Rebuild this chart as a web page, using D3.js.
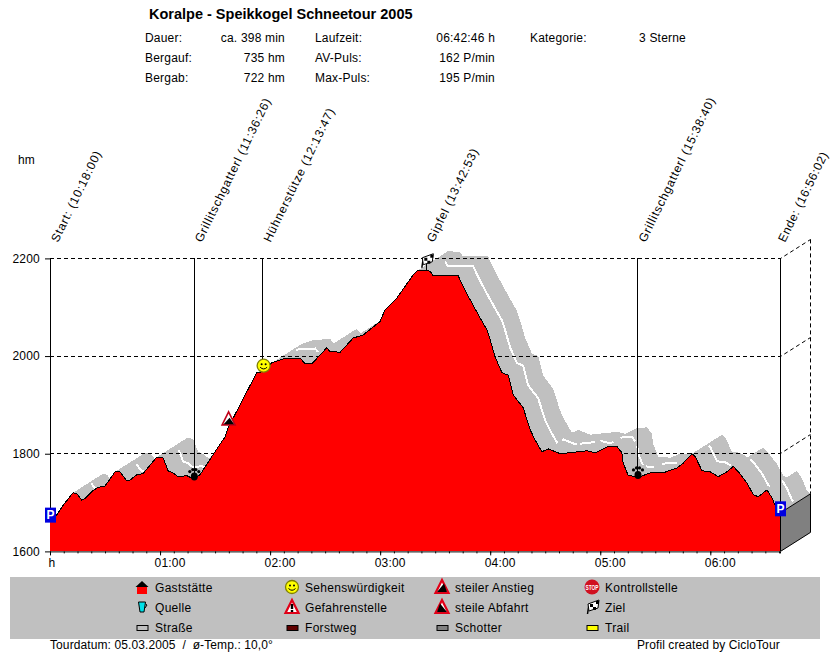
<!DOCTYPE html>
<html>
<head>
<meta charset="utf-8">
<script src="https://cdnjs.cloudflare.com/ajax/libs/d3/7.8.5/d3.min.js"></script>
<style>
  html, body { margin: 0; padding: 0; background: #fff; }
  svg { display: block; }
  text { font-family: "Liberation Sans", Arial, sans-serif; font-size: 12px; fill: #000; letter-spacing: .2px; white-space: pre; }
</style>
</head>
<body>
<div id="chart"></div>
<script>
// profile, minutes since start / height in hm
var profileMin = [0,3.7,7.1,12.5,14.7,17.3,19.1,23.5,26.2,30,35.5,38.2,41.8,43.6,47.3,50.7,58.2,61.6,64.4,67,69.8,74.6,78.5,81.8,88.9,95.5,97.1,112.7,116.2,120.9,127.1,136.4,139.1,142.7,148.2,150.9,152.7,158.2,165.3,170.7,180,182.7,189.1,198,200.7,207.3,208.7,222.5,225.3,229.1,234.5,238.2,240,242.7,246.4,249.8,252.5,258,261.8,264.5,268.2,271.6,278.2,292.8,297.3,303.7,309.1,311.8,312.5,315.3,321.8,327.3,334.4,341.8,345.3,350,351.8,355.5,360,364.4,369.1,372.5,375.3,380,383.5,386.2,390.9,393.6,396.4,398];
var profileHm = [1662,1675,1694,1720,1718,1705,1708,1725,1731,1734,1763,1763,1745,1746,1757,1759,1793,1792,1765,1761,1753,1755,1748,1757,1798,1835,1853,1966,1968,1986,1994,1996,1984,1984,2006,2017,2009,2008,2037,2043,2071,2095,2119,2166,2176,2174,2165,2165,2142,2115,2078,2054,2033,1998,1966,1961,1921,1894,1849,1828,1804,1810,1800,1806,1802,1814,1815,1802,1781,1755,1753,1761,1761,1771,1781,1800,1794,1765,1763,1753,1763,1774,1763,1740,1716,1712,1726,1710,1685,1679];

// white road stretches on the band, minutes from / to
var roadFrom = [14,39,62,126,207,271,281,292,303,312,317,325.5,351,373.6,391];
var roadTo = [17,43,76,138,268.5,279,289,299,311,315,321,333.6,363,384.5,397];

var waypointNames = ["Start: (10:18:00)","Grillitschgatterl (11:36:26)","Hühnerstütze (12:13:47)","Gipfel (13:42:53)","Grillitschgatterl (15:38:40)","Ende: (16:56:02)"];
var waypointMin = [0,78.4,115.8,204.9,320.3,398];

var hourTicks = [0,60,120,180,240,300,360];
var hourLabels = ["h","01:00","02:00","03:00","04:00","05:00","06:00"];
var hmTicks = [1600,1800,2000,2200];

var infoLabels = [["Dauer:","Bergauf:","Bergab:"],["Laufzeit:","AV-Puls:","Max-Puls:"],["Kategorie:"]];
var infoValues = [["ca. 398 min","735 hm","722 hm"],["06:42:46 h","162 P/min","195 P/min"],["3 Sterne"]];

var legendNames = ["Gaststätte","Quelle","Straße","Sehenswürdigkeit","Gefahrenstelle","Forstweg","steiler Anstieg","steile Abfahrt","Schotter","Kontrollstelle","Ziel","Trail"];
var legendIcons = ["house","cup","road","smile","danger","forest","climb","descent","gravel","stop","flag","trail"];

var W = 830, H = 652;
var depthX = 30, depthY = -19;

var svg = d3.select("#chart").append("svg").attr("width", W).attr("height", H);

var x = d3.scaleLinear().domain([0,398]).range([50,780]);
var y = d3.scaleLinear().domain([1600,2200]).range([551.4,258.4]);

var profile = profileMin.map(function(m,i){ return {m:m, h:profileHm[i]}; });
function hmAt(m){
  var i = d3.bisectLeft(profileMin, m);
  if(i <= 0) return profileHm[0];
  if(i >= profileMin.length) return profileHm[profileHm.length-1];
  var t = (m-profileMin[i-1])/(profileMin[i]-profileMin[i-1]);
  return profileHm[i-1] + t*(profileHm[i]-profileHm[i-1]);
}

// header
svg.append("text").attr("x",149).attr("y",19).style("font-size","14.5px").style("font-weight","bold").style("letter-spacing","0").text("Koralpe - Speikkogel Schneetour 2005");
var labelX = [145,315,530], valueX = [285,495,639], valueAnchor = ["end","end","start"];
infoLabels.forEach(function(col,c){
  col.forEach(function(t,r){
    svg.append("text").attr("x",labelX[c]).attr("y",42+r*20).text(t);
    svg.append("text").attr("x",valueX[c]).attr("y",42+r*20).attr("text-anchor",valueAnchor[c]).text(infoValues[c][r]);
  });
});
svg.append("text").attr("x",18).attr("y",164).text("hm");

// band behind the profile, one piece per segment
var band = svg.append("g").attr("shape-rendering","crispEdges");
band.selectAll("path").data(d3.pairs(profile)).enter().append("path")
  .attr("fill","#c0c0c0")
  .attr("d",function(d){
    var a=[x(d[0].m),y(d[0].h)], b=[x(d[1].m),y(d[1].h)];
    return "M"+a+"L"+b+"L"+[b[0]+depthX,b[1]+depthY]+"L"+[a[0]+depthX,a[1]+depthY]+"Z";
  });

// white road stripes in the middle of the band
var stripe = d3.line().x(function(d){return x(d.m)+depthX/2;}).y(function(d){return y(d.h)+depthY/2;});
svg.append("g").attr("shape-rendering","crispEdges").selectAll("path").data(roadFrom.map(function(f,i){
    var pts = profile.filter(function(p){return p.m>f && p.m<roadTo[i];});
    return [{m:f,h:hmAt(f)}].concat(pts,[{m:roadTo[i],h:hmAt(roadTo[i])}]);
  })).enter().append("path")
  .attr("d",stripe).attr("fill","none").attr("stroke","#fff").attr("stroke-width",2);

// grid
var grid = svg.append("g").attr("fill","none").attr("stroke","#000").attr("stroke-width",1).attr("stroke-dasharray","4,3");
grid.selectAll(".grid").data(hmTicks.slice(1)).enter().append("path")
  .attr("d",function(d){
    var yy=Math.floor(y(d))+.5;
    return "M50,"+yy+"H780.5L"+(780.5+depthX)+","+(yy+depthY);
  });
grid.append("path").attr("d","M"+(x(398)+depthX+.5)+","+(y(2200)+depthY)+"V"+(y(1679)+depthY));

// end side of the band
svg.append("path")
  .attr("d","M"+[x(398)+.5,y(1600)]+"L"+[x(398)+depthX+.5,y(1600)+depthY]+"L"+[x(398)+depthX+.5,y(1679)+depthY]+"L"+[x(398)+.5,y(1679)]+"Z")
  .attr("fill","#808080").attr("stroke","#000");

// profile
var area = d3.area().x(function(d){return x(d.m);}).y0(y(1600)).y1(function(d){return y(d.h);});
var line = d3.line().x(function(d){return x(d.m);}).y(function(d){return y(d.h);});
svg.append("path").datum(profile).attr("d",area).attr("fill","#ff0000").attr("shape-rendering","crispEdges");
svg.append("path").datum(profile).attr("d",line).attr("fill","none").attr("stroke","#000").attr("stroke-width",1).attr("shape-rendering","crispEdges");

// waypoints
svg.selectAll(".way").data(waypointMin).enter().append("line")
  .attr("x1",function(d){return x(d)+.5;}).attr("x2",function(d){return x(d)+.5;})
  .attr("y1",y(2200)).attr("y2",function(d){return y(hmAt(d));})
  .attr("stroke","#000").attr("shape-rendering","crispEdges");
svg.selectAll(".wayname").data(waypointNames).enter().append("text")
  .attr("transform",function(d,i){
    var shift = i==waypointNames.length-1 ? 5 : 8; // last one has to stay inside the picture
    return "translate("+(x(waypointMin[i])+shift)+",243) rotate(-64)";
  })
  .style("letter-spacing",function(d,i){return i==waypointNames.length-1 ? "0.6px" : "0.8px";})
  .text(function(d){return d;});

// axes
var xAxis = d3.axisBottom(x).tickValues(d3.range(0,398,7.5)).tickSize(2).tickFormat("");
svg.append("g").attr("transform","translate(0,"+y(1600)+")").call(xAxis);
var xMajor = svg.append("g").attr("transform","translate(0,"+y(1600)+")")
  .call(d3.axisBottom(x).tickValues(hourTicks).tickSize(4).tickFormat(function(d,i){return hourLabels[i];}));
xMajor.select(".domain").remove();
xMajor.selectAll("text").attr("text-anchor","start").attr("x",function(d,i){return i?-6:-2;}).attr("y",7).attr("dy","0.71em").style("font-size","12px").style("font-family","'Liberation Sans'");

var yAxis = svg.append("g").attr("transform","translate(50,0)")
  .call(d3.axisLeft(y).tickValues(hmTicks).tickSize(5).tickFormat(function(d){return d;}));
yAxis.select(".domain").remove();
yAxis.selectAll("text").attr("x",-10).style("font-size","12px").style("font-family","'Liberation Sans'");

// icons, drawn around 0,0
var triangle = "M0,-7L6.5,6H-6.5Z";
var icons = {
  park:function(g){
    g.append("rect").attr("x",-5.5).attr("y",-7.5).attr("width",11).attr("height",15).attr("fill","#0000e0");
    g.append("text").attr("text-anchor","middle").attr("y",4).style("font-size","12px").style("font-weight","bold").style("fill","#fff").text("P");
  },
  paw:function(g){
    g.append("ellipse").attr("cy",2.5).attr("rx",3.5).attr("ry",4).attr("fill","#000");
    [[-4.5,-2.5],[-1.5,-4.5],[1.5,-4.5],[4.5,-2.5]].forEach(function(p){
      g.append("circle").attr("cx",p[0]).attr("cy",p[1]).attr("r",1.6).attr("fill","#000");
    });
  },
  smile:function(g){
    g.append("circle").attr("r",6.5).attr("fill","#ffff00").attr("stroke","#808000").attr("stroke-width",1.3);
    g.append("circle").attr("cx",-2).attr("cy",-1.5).attr("r",1).attr("fill","#000");
    g.append("circle").attr("cx",2).attr("cy",-1.5).attr("r",1).attr("fill","#000");
    g.append("path").attr("d","M-3.5,1.5Q0,5 3.5,1.5").attr("fill","none").attr("stroke","#000");
  },
  marker:function(g){
    g.append("path").attr("d",triangle).attr("fill","#fff").attr("stroke","#c00018").attr("stroke-width",1.6);
    g.append("path").attr("d","M1,-1L5.5,5.5H-5Z").attr("fill","#000");
  },
  climb:function(g){
    g.append("path").attr("d",triangle).attr("fill","#fff").attr("stroke","#e00018").attr("stroke-width",2.2);
    g.append("path").attr("d","M2,-3.5L5,5H-5Z").attr("fill","#000");
  },
  descent:function(g){
    g.append("path").attr("d",triangle).attr("fill","#fff").attr("stroke","#e00018").attr("stroke-width",2.2);
    g.append("path").attr("d","M-2,-3.5L5,5H-5Z").attr("fill","#000");
  },
  danger:function(g){
    g.append("path").attr("d",triangle).attr("fill","#fff").attr("stroke","#e00018").attr("stroke-width",2.2);
    g.append("path").attr("d","M0,-3V2M0,3V5").attr("stroke","#000").attr("stroke-width",2.4);
  },
  flag:function(g){
    g.append("path").attr("d","M-4.5,7L-3,-3").attr("stroke","#000").attr("stroke-width",1.5);
    g.append("path").attr("d","M-4,-3L7,-7L6,1L-3,4Z").attr("fill","#fff").attr("stroke","#000");
    g.append("path").attr("d","M-2,-3h3v3h-3zM4,-6h3v3h-3zM1,0h3v3h-3z").attr("fill","#000");
  },
  house:function(g){
    g.append("rect").attr("x",-5).attr("y",0).attr("width",10).attr("height",7).attr("fill","#ff0000");
    g.append("path").attr("d","M0,-6L6.5,0H-6.5Z").attr("fill","#000");
  },
  cup:function(g){
    g.append("path").attr("d","M-3.5,-5H3.5L2,5H-2Z").attr("fill","#00e0e8").attr("stroke","#000");
    g.append("path").attr("d","M3.5,-3L5,-2L3,1").attr("fill","none").attr("stroke","#000");
  },
  stop:function(g){
    g.append("circle").attr("r",7.5).attr("fill","#d01020");
    g.append("text").attr("text-anchor","middle").attr("y",2.5).attr("textLength",13).attr("lengthAdjust","spacingAndGlyphs").style("font-size","8px").style("font-weight","bold").style("letter-spacing","0").style("fill","#fff").text("STOP");
  },
  road:function(g){ swatch(g,"#c0c0c0"); },
  forest:function(g){ swatch(g,"#600000"); },
  gravel:function(g){ swatch(g,"#808080"); },
  trail:function(g){ swatch(g,"#ffff00"); }
};
function swatch(g,color){
  g.append("rect").attr("x",-5).attr("y",-1.5).attr("width",11).attr("height",5).attr("fill",color).attr("stroke","#000");
}
function placeIcon(name,m,offset){
  icons[name](svg.append("g").attr("transform","translate("+(x(m)+.5)+","+(y(hmAt(m))+offset)+")"));
}
placeIcon("park",0,-6);
placeIcon("park",398,-4);
placeIcon("paw",78.4,-5);
placeIcon("paw",320.3,-4);
placeIcon("marker",97.1,-9);
placeIcon("smile",116.2,-6);
placeIcon("flag",204.9,-10);

// legend
svg.append("rect").attr("x",10).attr("y",577).attr("width",810).attr("height",62).attr("fill","#c0c0c0");
var legendX = [142,292,442,592];
legendNames.forEach(function(n,i){
  var col = Math.floor(i/3), row = i%3;
  var g = svg.append("g").attr("transform","translate("+legendX[col]+","+(587+row*20)+")");
  icons[legendIcons[i]](g);
  svg.append("text").attr("x",legendX[col]+13).attr("y",592+row*20).style("letter-spacing","0.3px").text(n);
});

// footer
svg.append("text").attr("x",50).attr("y",649).style("letter-spacing","0.1px").text("Tourdatum: 05.03.2005  /  ø-Temp.: 10,0°");
svg.append("text").attr("x",637).attr("y",649).style("letter-spacing","0.1px").text("Profil created by CicloTour");
</script>
</body>
</html>
